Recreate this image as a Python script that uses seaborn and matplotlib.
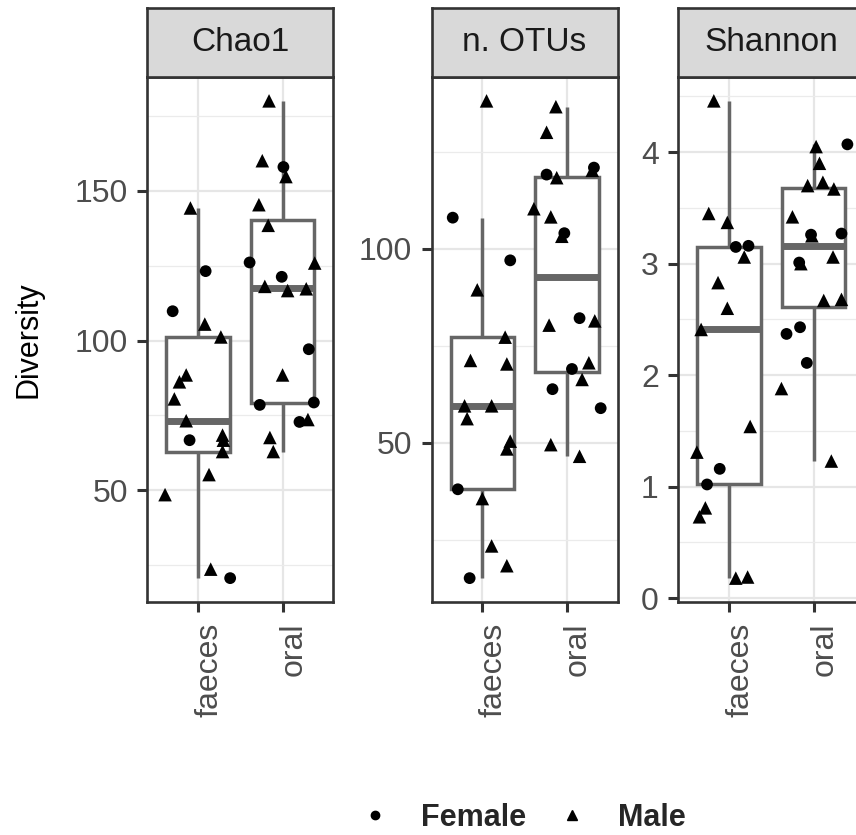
import numpy as np
import pandas as pd
import seaborn as sns
import matplotlib.pyplot as plt
import matplotlib.transforms as mtransforms
from matplotlib.lines import Line2D
from matplotlib.ticker import FixedLocator

sns.set_style("white")
plt.rcParams['font.family'] = ['Liberation Sans', 'DejaVu Sans']

sites = ["faeces", "oral"]
metrics = ["Chao1", "n. OTUs", "Shannon"]

# values, with the jitter offset of every point
chao1_faeces = [144.3, 123.2, 109.8, 105.5, 101.2, 88.5, 86.2, 80.5, 73.2, 66.7,
                68.4, 66.7, 62.9, 55.2, 48.5, 23.6, 20.6]
chao1_faeces_sex = list("MFFMMMMMMFMMMMMMF")
chao1_faeces_jit = [-0.09, 0.09, -0.30, 0.08, 0.27, -0.14, -0.22, -0.28, -0.14, -0.10,
                    0.29, 0.30, 0.29, 0.13, -0.39, 0.15, 0.38]
chao1_oral = [180.1, 160.1, 158.0, 154.8, 145.4, 138.5, 126.1, 125.9, 121.3, 118.1,
              116.7, 117.3, 97.1, 88.5, 78.5, 79.3, 72.8, 73.6, 67.6, 62.9]
chao1_oral_sex = list("MMFMMMFMFMMMFMFFFMMM")
chao1_oral_jit = [-0.16, -0.24, 0.01, 0.04, -0.28, -0.17, -0.39, 0.38, -0.01, -0.21,
                  0.06, 0.28, 0.31, 0.00, -0.27, 0.37, 0.20, 0.30, -0.15, -0.11]

otus_faeces = [138.1, 108.0, 97.0, 89.4, 77.2, 71.2, 70.3, 59.5, 59.5, 56.2,
               50.4, 48.4, 38.0, 35.6, 23.4, 18.3, 15.1]
otus_faeces_sex = list("MFFMMMMMMMMMFMMMF")
otus_faeces_jit = [0.05, -0.35, 0.33, -0.06, 0.27, -0.14, 0.29, -0.21, 0.11, -0.18,
                   0.33, 0.29, -0.29, 0.00, 0.11, 0.29, -0.15]
otus_oral = [136.6, 130.0, 120.9, 120.2, 119.1, 118.3, 110.3, 108.2, 104.0, 103.2,
             80.3, 82.1, 81.4, 70.6, 69.0, 66.3, 63.8, 58.9, 49.5, 46.5]
otus_oral_sex = list("MMFMFMMMFMMFMMFMFFMM")
otus_oral_jit = [-0.13, -0.24, 0.32, 0.30, -0.24, -0.12, -0.39, -0.19, -0.03, -0.06,
                 -0.21, 0.15, 0.33, 0.26, 0.06, 0.18, -0.17, 0.40, -0.19, 0.15]

shannon_faeces = [4.46, 3.45, 3.37, 3.15, 3.16, 3.06, 2.83, 2.60, 2.41, 1.54,
                  1.31, 1.16, 1.02, 0.81, 0.73, 0.18, 0.19]
shannon_faeces_sex = list("MMMFFMMMMMMFFMMMM")
shannon_faeces_jit = [-0.18, -0.24, -0.02, 0.08, 0.23, 0.18, -0.13, -0.02, -0.33, 0.25,
                      -0.38, -0.11, -0.26, -0.28, -0.35, 0.08, 0.22]
shannon_oral = [4.07, 4.05, 3.90, 3.70, 3.73, 3.67, 3.42, 3.25, 3.26, 3.27,
                3.06, 3.01, 3.00, 2.67, 2.68, 2.43, 2.37, 2.11, 1.88, 1.23]
shannon_oral_sex = list("FMMMMMMMFFMFMMMFFFMM")
shannon_oral_jit = [0.40, 0.03, 0.07, -0.07, 0.11, 0.24, -0.25, -0.02, -0.03, 0.33,
                    0.23, -0.17, -0.15, 0.12, 0.33, -0.16, -0.32, -0.08, -0.38, 0.21]

major_ticks = {"Chao1": [50, 100, 150], "n. OTUs": [50, 100], "Shannon": [0, 1, 2, 3, 4]}
minor_ticks = {"Chao1": [25, 75, 125, 175], "n. OTUs": [25, 75, 125],
               "Shannon": [0.5, 1.5, 2.5, 3.5, 4.5]}

groups = [
    ("Chao1", "faeces", chao1_faeces, chao1_faeces_sex, chao1_faeces_jit),
    ("Chao1", "oral", chao1_oral, chao1_oral_sex, chao1_oral_jit),
    ("n. OTUs", "faeces", otus_faeces, otus_faeces_sex, otus_faeces_jit),
    ("n. OTUs", "oral", otus_oral, otus_oral_sex, otus_oral_jit),
    ("Shannon", "faeces", shannon_faeces, shannon_faeces_sex, shannon_faeces_jit),
    ("Shannon", "oral", shannon_oral, shannon_oral_sex, shannon_oral_jit),
]
frames = []
for m, s, vals, sex, jit in groups:
    frames.append(pd.DataFrame({"metric": m, "site": s, "value": vals,
                                "sex": ["Female" if c == "F" else "Male" for c in sex],
                                "jit": jit}))
df = pd.concat(frames, ignore_index=True)
df["xpos"] = df["site"].map({"faeces": 0, "oral": 1}) + df["jit"]

W, H = 856, 835
fig = plt.figure(figsize=(W / 100, H / 100), dpi=100)


def px_axes(left, top, width, height):
    return fig.add_axes([left / W, 1 - (top + height) / H, width / W, height / H])


dark = "#333333"
box_grey = "#666666"
lefts = [147.3, 431.6, 678.3]

for left, m in zip(lefts, metrics):
    ax = px_axes(left, 77, 186, 525)
    sub = df[df["metric"] == m]
    sns.boxplot(data=sub, x="site", y="value", order=sites, width=0.75, color="white",
                linecolor=box_grey, linewidth=2.5, showcaps=False, showfliers=False,
                whis=1.5, medianprops={"linewidth": 5}, ax=ax)
    sns.scatterplot(data=sub, x="xpos", y="value", style="sex", size="sex",
                    markers={"Female": "o", "Male": "^"},
                    sizes={"Female": 72, "Male": 95}, color="black",
                    linewidth=0, legend=False, ax=ax, zorder=3)
    lo, hi = sub["value"].min(), sub["value"].max()
    pad = (hi - lo) * 0.05
    ax.set_ylim(lo - pad, hi + pad)
    ax.set_xlim(-0.6, 1.6)
    ax.set_xlabel("")
    ax.set_ylabel("")
    ax.set_yticks(major_ticks[m])
    ax.yaxis.set_minor_locator(FixedLocator(minor_ticks[m]))
    ax.set_xticks([0, 1])
    ax.set_xticklabels(sites, rotation=90, va="top", ha="center")
    ax.set_axisbelow(True)
    ax.grid(which="major", color="#E6E6E6", linewidth=1.6)
    ax.grid(which="minor", axis="y", color="#EBEBEB", linewidth=0.9)
    ax.tick_params(which="major", length=7, width=2.2, color=dark, labelsize=23,
                   labelcolor="#4D4D4D", pad=7, left=True, bottom=True)
    ax.tick_params(axis="x", pad=8)
    ax.tick_params(which="minor", length=0)
    offset = mtransforms.ScaledTranslation(0.11, 0, fig.dpi_scale_trans)
    for lab in ax.get_xticklabels():
        lab.set_transform(lab.get_transform() + offset)
    for sp in ax.spines.values():
        sp.set_color(dark)
        sp.set_linewidth(1.9)

    strip = px_axes(left, 8, 186, 69)
    strip.set_facecolor("#D9D9D9")
    strip.set_xticks([])
    strip.set_yticks([])
    for sp in strip.spines.values():
        sp.set_color(dark)
        sp.set_linewidth(1.9)
    strip.text(0.5, 0.5, m, ha="center", va="center", fontsize=24, color="#1A1A1A",
               transform=strip.transAxes)

fig.text(29 / W, 1 - 339.5 / H, "Diversity", rotation=90, ha="center", va="center",
         fontsize=22, color="black")

handles = [Line2D([], [], marker="o", ls="", color="black", markersize=6, label="Female"),
           Line2D([], [], marker="^", ls="", color="black", markersize=7, label="Male")]
fig.legend(handles=handles, ncol=2, loc="center", bbox_to_anchor=(523 / W, 17 / H),
           frameon=False, prop={"weight": "bold", "size": 22}, handlelength=1.0,
           handletextpad=1.0, columnspacing=1.0, borderpad=0)

fig.savefig("out.png", dpi=100)
